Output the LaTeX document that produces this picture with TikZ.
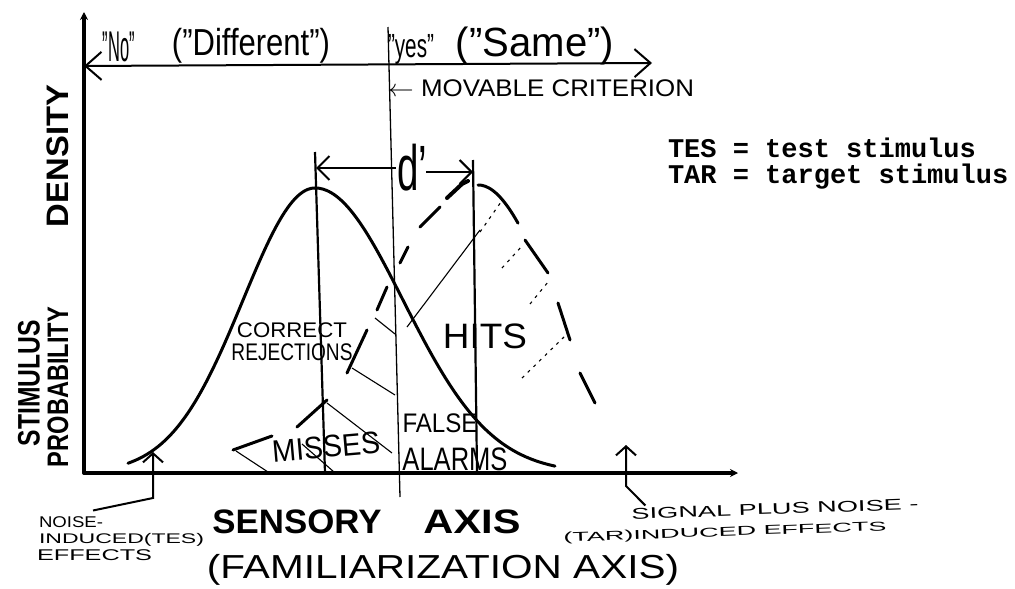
\documentclass[tikz,border=0pt]{standalone}
\usepackage{fontspec}
\setmainfont{Liberation Sans}
\newfontfamily\monofam{Liberation Mono}
\usetikzlibrary{arrows.meta}
\newcommand{\bx}[3]{\resizebox*{#1pt}{#2pt}{#3}}
\begin{document}
\begin{tikzpicture}[x=1pt,y=-1pt,
  axisline/.style={line width=3.5pt, line cap=round},
  curveline/.style={line width=3pt, line cap=round},
  brush/.style={line width=4pt, line cap=round},
  meanline/.style={line width=2.2pt},
  critline/.style={line width=1.3pt},
  hatchline/.style={line width=1.1pt},
  dotline/.style={line width=1.1pt, dash pattern=on 3pt off 5pt},
  lbl/.style={inner sep=0pt, outer sep=0pt},
  barb/.style={line width=2pt},
]
\useasboundingbox (0,0) rectangle (1015,589);

% axes
\coordinate (O) at (84,473);
\coordinate (Ytop) at (84,12);
\coordinate (Xend) at (738,473);
\draw[axisline,-{Stealth[length=8pt,width=8pt]}] (O) -- (Ytop);
\draw[axisline,-{Stealth[length=8pt,width=8pt]}] (O) -- (Xend);

% decision arrow at top
\coordinate (TL) at (84,66);
\coordinate (TR) at (652,63);
\draw[barb,{Straight Barb[length=16pt,width=28pt]}-{Straight Barb[length=16pt,width=28pt]}] (TL) -- (TR);

% criterion
\coordinate (CT) at (388,27);
\coordinate (CB) at (400,497);
\draw[critline] (CT) -- (CB);

% mean lines
\coordinate (M1T) at (315,152);
\coordinate (M1B) at (325,473);
\coordinate (M2T) at (473,160);
\coordinate (M2B) at (477,473);
\draw[meanline] (M1T) -- (M1B);
\draw[meanline] (M2T) -- (M2B);

% d' label and arrows
\node[lbl] (dp) at (412,168) {\bx{30}{47}{d'}};
\coordinate (D1) at (316,168);
\coordinate (D1E) at (396,168);
\coordinate (D2S) at (426,172);
\coordinate (D2) at (473,172);
\draw[barb,{Straight Barb[length=12pt,width=24pt]}-] (D1) -- (D1E);
\draw[barb,-{Straight Barb[length=12pt,width=24pt]}] (D2S) -- (D2);

% noise distribution (solid)
\draw[curveline] plot[domain=128:315,samples=50,smooth] (\x,{473-285*exp(-((\x-315)/72)^2/2)});
\draw[curveline] plot[domain=315:555,samples=60,smooth] (\x,{473-285*exp(-((\x-315)/88)^2/2)});

% signal plus noise distribution (hand-drawn dashes)
\draw[curveline] plot[domain=478:518,samples=12,smooth] (\x,{473-288*exp(-((\x-478)/75)^2/2)});
\draw[brush] (447,198) -- (462,184) -- (468,181);
\draw[curveline] (420,227) -- (440,207);
\draw[curveline] (400,263) -- (408,247);
\draw[curveline] (377,310) -- (387,287);
\draw[curveline] (347,373) -- (367,330);
\draw[curveline] (297,427) -- (327,400);
\draw[curveline] (233,450) -- (272,436);
\draw[curveline] (525,240) -- (548,273);
\draw[curveline] (558,303) -- (570,340);
\draw[curveline] (580,373) -- (595,403);

% hatching
\draw[hatchline] (407,327) -- (480,230);
\draw[dotline] (480,232) -- (501,202);
\draw[dotline] (502,268) -- (522,246);
\draw[dotline] (530,304) -- (548,282);
\draw[dotline] (522,378) -- (564,337);
\draw[hatchline] (375,318) -- (395,334);
\draw[hatchline] (352,368) -- (395,395);
\draw[hatchline] (327,403) -- (392,453);
\draw[hatchline] (236,451) -- (268,472);
\draw[hatchline] (302,444) -- (334,472);

% labels
\node[lbl] (no) at (119,47) {\bx{32}{30}{"No"}};
\node[lbl] (diff) at (251,46) {\bx{158}{35}{("Different")}};
\node[lbl] (yes) at (411,49) {\bx{46}{30}{"yes"}};
\node[lbl] (same) at (535,46) {\bx{158}{38}{("Same")}};
\node[lbl] (crit) at (541,88) {\bx{306}{17}{$\leftarrow$ MOVABLE CRITERION}};

\node[lbl,rotate=90] (stim) at (29,383) {\bx{126}{22}{\bfseries STIMULUS}};
\node[lbl,rotate=90] (prob) at (58,387) {\bx{160}{21}{\bfseries PROBABILITY}};
\node[lbl,rotate=90] (dens) at (58,156) {\bx{142}{22}{\bfseries DENSITY}};

\node[lbl] (corr) at (292,330) {\bx{110}{15}{CORRECT}};
\node[lbl] (rej) at (292,352) {\bx{121}{17}{REJECTIONS}};
\node[lbl] (hits) at (485,336) {\bx{84}{25}{HITS}};
\node[lbl,rotate=5] (miss) at (326,447) {\bx{108}{22}{MISSES}};
\node[lbl] (false) at (440,423) {\bx{75}{19}{FALSE}};
\node[lbl] (alarm) at (455,459) {\bx{105}{23}{ALARMS}};

\node[lbl] (sens) at (297,522) {\bx{169}{24}{\bfseries SENSORY}};
\node[lbl] (axis) at (472,522) {\bx{97}{24}{\bfseries AXIS}};
\node[lbl] (fam) at (443,570) {\bx{472}{31}{(FAMILIARIZATION AXIS)}};

\node[lbl,anchor=west] (n1) at (39,522) {\bx{64}{11}{NOISE-}};
\node[lbl,anchor=west] (n2) at (39,540) {\bx{165}{13}{INDUCED(TES)}};
\node[lbl,anchor=west] (n3) at (37,555) {\bx{115}{11}{EFFECTS}};
\node[lbl,rotate=2] (s1) at (775,509) {\bx{287}{11}{SIGNAL PLUS NOISE -}};
\node[lbl,rotate=2] (s2) at (725,533) {\bx{323}{12}{(TAR)INDUCED EFFECTS}};

\node[lbl,anchor=base west,font=\monofam\bfseries\fontsize{27}{30}\selectfont] (tes) at (668,157) {TES = test stimulus};
\node[lbl,anchor=base west,font=\monofam\bfseries\fontsize{27}{30}\selectfont] (tar) at (668,183) {TAR = target stimulus};

% pointer arrows
\coordinate (NA) at (153,452);
\coordinate (NB) at (153,498);
\coordinate (SA) at (626,445);
\coordinate (SB) at (626,486);
\draw[barb,{Straight Barb[length=9pt,width=20pt]}-] (NA) -- (NB) -- ([xshift=-10pt,yshift=6pt]n1.north east);
\draw[barb,{Straight Barb[length=9pt,width=20pt]}-] (SA) -- (SB) -- ([xshift=14pt,yshift=3pt]s1.north west);
\end{tikzpicture}
\end{document}
